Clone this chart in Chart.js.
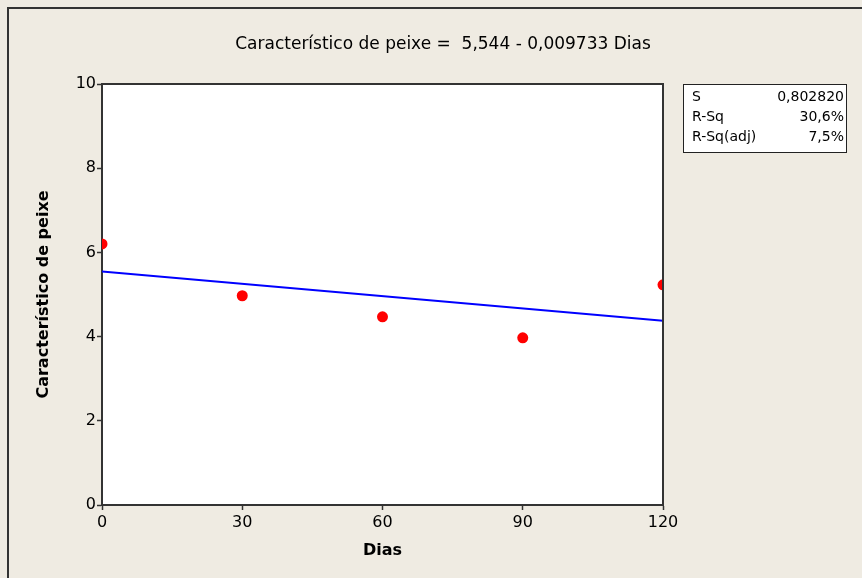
<!DOCTYPE html>
<html><head><meta charset="utf-8">
<script src="https://cdn.jsdelivr.net/npm/chart.js@4"></script>
<style>html,body{margin:0;padding:0;background:#EFEBE2;}canvas{display:block;}</style>
</head><body>
<div style="width:862px;height:578px;position:relative"><canvas id="c" width="862" height="578"></canvas></div>
<script>
const days = [0, 30, 60, 90, 120];
const values = [6.2, 4.97, 4.47, 3.97, 5.23];
const fitDays = [0, 120];
const fitValues = [5.544, 4.376];
const xTicks = [0, 30, 60, 90, 120];
const yTicks = [0, 2, 4, 6, 8, 10];
const titleText = 'Característico de peixe =  5,544 - 0,009733 Dias';
const statLabels = ['S', 'R-Sq', 'R-Sq(adj)'];
const statValues = ['0,802820', '30,6%', '7,5%'];

const FONT = '"DejaVu Sans", sans-serif';

const decor = {
  id: 'decor',
  beforeDraw(chart) {
    const {ctx, chartArea: a} = chart;
    ctx.save();
    ctx.fillStyle = '#EFEBE2';
    ctx.fillRect(0, 0, chart.width, chart.height);
    ctx.strokeStyle = '#333';
    ctx.lineWidth = 2;
    ctx.beginPath();
    ctx.moveTo(8, chart.height);
    ctx.lineTo(8, 8);
    ctx.lineTo(chart.width, 8);
    ctx.stroke();
    ctx.fillStyle = '#fff';
    ctx.fillRect(a.left, a.top, a.right - a.left, a.bottom - a.top);
    ctx.restore();
  },
  afterDraw(chart) {
    const {ctx, chartArea: a} = chart;
    ctx.save();
    ctx.strokeStyle = '#333';
    ctx.lineWidth = 2;
    ctx.beginPath();
    ctx.moveTo(a.left, a.top);
    ctx.lineTo(a.right, a.top);
    ctx.lineTo(a.right, a.bottom);
    ctx.stroke();
    // title
    ctx.fillStyle = '#000';
    ctx.font = '17px ' + FONT;
    ctx.textAlign = 'center';
    ctx.textBaseline = 'middle';
    ctx.fillText(titleText, 443, 45);
    // stats box
    ctx.fillStyle = '#fff';
    ctx.fillRect(683, 84, 163, 68);
    ctx.strokeStyle = '#222';
    ctx.lineWidth = 1;
    ctx.strokeRect(683.5, 84.5, 163, 68);
    ctx.fillStyle = '#000';
    ctx.font = '14px ' + FONT;
    for (let i = 0; i < statLabels.length; i++) {
      const y = 97.5 + i * 20;
      ctx.textAlign = 'left';
      ctx.fillText(statLabels[i], 692, y);
      ctx.textAlign = 'right';
      ctx.fillText(statValues[i], 844, y);
    }
    ctx.restore();
  }
};

new Chart(document.getElementById('c'), {
  type: 'scatter',
  data: {
    datasets: [
      {
        type: 'line',
        data: fitDays.map((d, i) => ({x: d, y: fitValues[i]})),
        borderColor: '#0000FF',
        borderWidth: 2,
        pointRadius: 0,
        fill: false
      },
      {
        data: days.map((d, i) => ({x: d, y: values[i]})),
        backgroundColor: '#FF0000',
        borderColor: '#FF0000',
        pointRadius: 5.5,
        borderWidth: 0
      }
    ]
  },
  options: {
    responsive: false,
    animation: false,
    events: [],
    layout: {padding: {top: 84, right: 199, bottom: 0, left: 0}},
    plugins: {legend: {display: false}, tooltip: {enabled: false}, title: {display: false}},
    scales: {
      x: {
        type: 'linear', min: 0, max: 120,
        afterFit(s) { s.height = 73; },
        afterBuildTicks(s) { s.ticks = xTicks.map(v => ({value: v})); },
        grid: {drawOnChartArea: false, tickLength: 5, tickColor: '#333', tickWidth: 1.5},
        border: {color: '#333', width: 2},
        ticks: {color: '#000', font: {size: 16, family: FONT}, padding: 3, maxRotation: 0},
        title: {display: true, text: 'Dias', color: '#000', font: {size: 16, weight: 'bold', family: FONT}, padding: {top: 0, bottom: 18}}
      },
      y: {
        type: 'linear', min: 0, max: 10,
        afterFit(s) { s.width = 102; },
        afterBuildTicks(s) { s.ticks = yTicks.map(v => ({value: v})); },
        grid: {drawOnChartArea: false, tickLength: 5, tickColor: '#333', tickWidth: 1.5},
        border: {color: '#333', width: 2},
        ticks: {color: '#000', font: {size: 16, family: FONT}, padding: 1},
        title: {display: true, text: 'Característico de peixe', color: '#000', font: {size: 16, weight: 'bold', family: FONT}, padding: {top: 34, bottom: 0}}
      }
    }
  },
  plugins: [decor]
});
</script>
</body></html>
